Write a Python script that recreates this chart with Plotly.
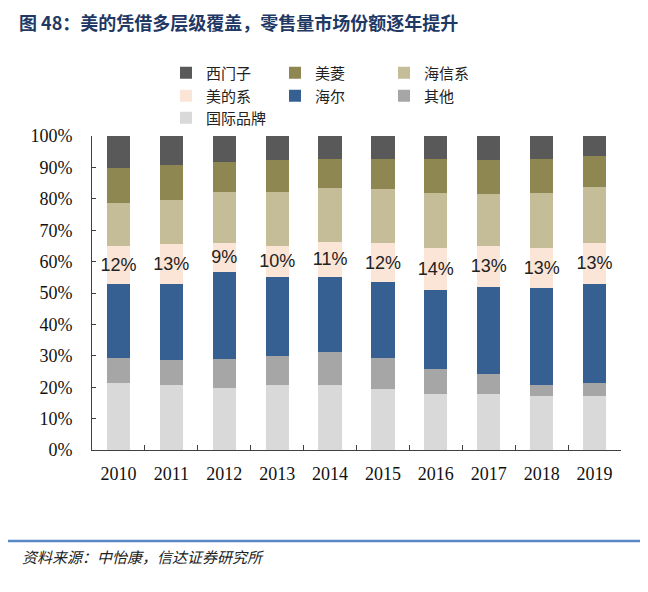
import plotly.graph_objects as go

years = ["2010", "2011", "2012", "2013", "2014", "2015", "2016", "2017", "2018", "2019"]

intl = [21.4, 20.6, 19.9, 20.6, 20.6, 19.4, 17.9, 17.9, 17.3, 17.3]
other = [8.0, 8.0, 9.1, 9.4, 10.7, 10.0, 7.8, 6.3, 3.5, 3.9]
haier = [23.4, 24.2, 27.8, 25.2, 23.9, 24.0, 25.1, 27.7, 30.7, 31.8]
midea = [12.2, 12.8, 9.2, 9.8, 11.1, 12.4, 13.6, 13.1, 12.7, 13.0]
hisense = [13.8, 14.0, 16.3, 17.3, 17.0, 17.2, 17.3, 16.4, 17.5, 17.8]
meiling = [10.9, 11.2, 9.5, 10.0, 9.4, 9.7, 11.0, 10.9, 11.0, 9.9]
siemens = [10.3, 9.2, 8.2, 7.7, 7.3, 7.3, 7.3, 7.7, 7.3, 6.3]

# (name, values, colour, legend row)
series = [
    ("国际品牌", intl, "#D9D9D9", "legend3"),
    ("其他", other, "#A6A6A6", "legend2"),
    ("海尔", haier, "#376092", "legend2"),
    ("美的系", midea, "#FBE5D6", "legend2"),
    ("海信系", hisense, "#C4BD97", "legend"),
    ("美菱", meiling, "#8F8752", "legend"),
    ("西门子", siemens, "#595959", "legend"),
]

fig = go.Figure()
for name, vals, color, lg in series:
    kw = {}
    if name == "美的系":
        kw = dict(
            texttemplate="%{y:.0f}%",
            textposition="inside",
            insidetextanchor="middle",
            constraintext="none",
            textfont=dict(family="Liberation Sans, Arial, sans-serif", size=18, color="#222222"),
            textangle=0,
        )
    fig.add_trace(go.Bar(x=years, y=vals, name=name, legend=lg,
                         marker=dict(color=color, line=dict(width=0)), **kw))

# the page body adds an 8px offset, so the figure is drawn 8px smaller
PL, PT, PB = 92, 136, 450  # plot area in window pixels
PW, PH = 529, 314


def legend_row(y_px):
    return dict(
        orientation="h",
        traceorder="reversed",
        x=(166 - PL) / PW,
        xanchor="left",
        y=(PB - y_px) / PH,
        yanchor="middle",
        entrywidth=64,
        entrywidthmode="pixels",
        font=dict(family="Noto Sans CJK SC, sans-serif", size=15, color="#222222"),
        itemwidth=30,
        bgcolor="rgba(0,0,0,0)",
    )


fig.update_layout(
    barmode="stack",
    bargap=0.56,
    width=640,
    height=584,
    paper_bgcolor="white",
    plot_bgcolor="white",
    margin=dict(l=84, r=27, t=128, b=142),
    showlegend=True,
    legend=legend_row(73),
    legend2=legend_row(96),
    legend3=legend_row(118),
    xaxis=dict(
        showline=True,
        linecolor="#404040",
        linewidth=1,
        ticks="inside",
        tickson="boundaries",
        ticklen=5,
        tickcolor="#404040",
        ticklabelstandoff=7,
        tickfont=dict(family="Liberation Serif, Times New Roman, serif", size=18, color="#111111"),
        showgrid=False,
    ),
    yaxis=dict(
        range=[0, 100],
        tickvals=[0, 10, 20, 30, 40, 50, 60, 70, 80, 90, 100],
        ticktext=["0%", "10%", "20%", "30%", "40%", "50%", "60%", "70%", "80%", "90%", "100%"],
        showline=True,
        linecolor="#404040",
        linewidth=1,
        ticks="inside",
        ticklen=4,
        tickcolor="#404040",
        ticklabelstandoff=15,
        tickfont=dict(family="Liberation Serif, Times New Roman, serif", size=18, color="#111111"),
        showgrid=False,
        zeroline=False,
    ),
    annotations=[
        dict(
            text="<b>图 48：美的凭借多层级覆盖，零售量市场份额逐年提升</b>",
            xref="paper", yref="paper",
            x=(17 - PL) / PW, y=(PB - 22) / PH,
            xanchor="left", yanchor="middle",
            showarrow=False,
            font=dict(family="Noto Sans CJK SC, sans-serif", size=18, color="#1F3864"),
        ),
        dict(
            text="<i>资料来源：中怡康，信达证券研究所</i>",
            xref="paper", yref="paper",
            x=(20 - PL) / PW, y=-(556 - PB) / PH,
            xanchor="left", yanchor="middle",
            showarrow=False,
            font=dict(family="Noto Sans CJK SC, sans-serif", size=15, color="#222222"),
        ),
    ],
    shapes=[
        dict(type="line", xref="paper", yref="paper",
             x0=(8 - PL) / PW, x1=(648 - PL) / PW, y0=-(541 - PB) / PH, y1=-(541 - PB) / PH,
             line=dict(color="#5A87C5", width=2.5)),
    ],
)

fig.write_html("out.html")
